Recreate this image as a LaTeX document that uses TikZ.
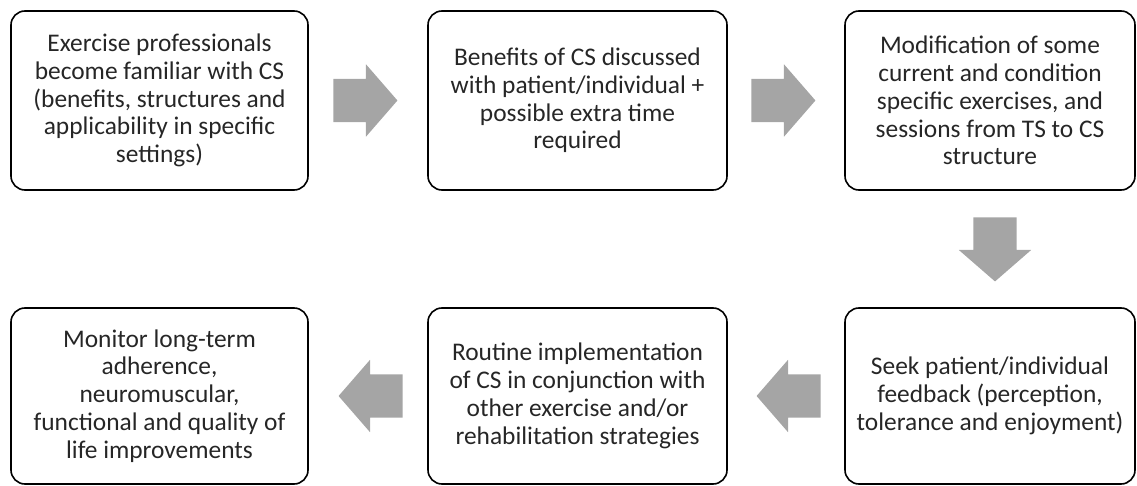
\documentclass[tikz,border=0pt]{standalone}
\usepackage{fontspec}
\setmainfont{Carlito}
\usetikzlibrary{shapes.arrows,calc}

\definecolor{arrowgray}{HTML}{A5A5A5}
\definecolor{textgray}{HTML}{262626}

\tikzset{
  stepbox/.style={draw=black, line width=1.6pt, rounded corners=14pt,
    align=center, text=textgray, inner sep=0pt,
    font=\fontsize{25.4}{27.8}\selectfont},
  flowarrow/.style={single arrow, fill=arrowgray, draw=none, inner sep=21.5pt,
    minimum height=64pt, minimum width=72pt,
    single arrow head extend=14.5pt, single arrow tip angle=98},
}

\begin{document}
\begin{tikzpicture}[x=1pt,y=-1pt]
    \useasboundingbox (0,0) rectangle (1137,486);

    % top row
    \node[stepbox, minimum width=297pt, minimum height=179pt] (b1) at (159.5,100.5)
      {Exercise professionals\\become familiar with CS\\(benefits, structures and\\applicability in specific\\settings)};
    \node[stepbox, minimum width=299pt, minimum height=179pt] (b2) at (577.5,100.5)
      {Benefits of CS discussed\\with patient/individual +\\possible extra time\\required};
    \node[stepbox, minimum width=290pt, minimum height=179pt] (b3) at (990,100.5)
      {Modification of some\\current and condition\\specific exercises, and\\sessions from TS to CS\\structure};

    % bottom row
    \node[stepbox, minimum width=290pt, minimum height=176pt] (b6) at (990,396)
      {Seek patient/individual\\feedback (perception,\\tolerance and enjoyment)};
    \node[stepbox, minimum width=299pt, minimum height=176pt] (b5) at (577.5,396)
      {Routine implementation\\of CS in conjunction with\\other exercise and/or\\rehabilitation strategies};
    \node[stepbox, minimum width=297pt, minimum height=176pt] (b4) at (159.5,396)
      {Monitor long-term\\adherence,\\neuromuscular,\\functional and quality of\\life improvements};

    % block arrows
    \node[flowarrow] (a12) at ($(b1.east)!0.5!(b2.west)+(-12,0)$) {};
    \node[flowarrow] (a23) at ($(b2.east)!0.5!(b3.west)+(-12,0)$) {};
    \node[flowarrow, shape border rotate=270] (a36) at ($(b3.south)!0.5!(b6.north)+(5,-9)$) {};
    \node[flowarrow, shape border rotate=180] (a65) at ($(b6.west)!0.5!(b5.east)+(12,0)$) {};
    \node[flowarrow, shape border rotate=180] (a54) at ($(b5.west)!0.5!(b4.east)+(12,0)$) {};
\end{tikzpicture}
\end{document}
